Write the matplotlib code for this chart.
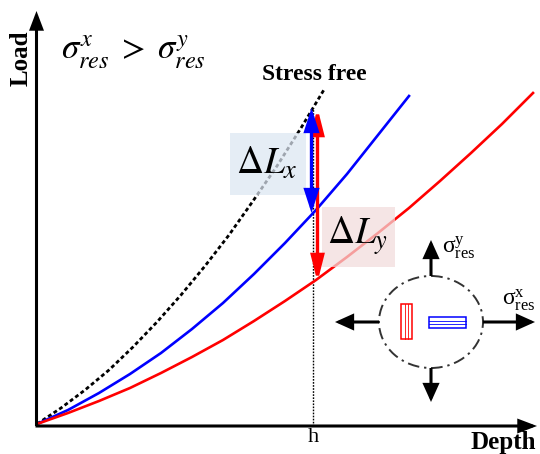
import matplotlib
matplotlib.use("Agg")
import matplotlib.pyplot as plt
from matplotlib.patches import FancyArrowPatch, Ellipse, Rectangle

plt.rcParams['font.family'] = ['Liberation Serif', 'DejaVu Serif']
plt.rcParams['mathtext.fontset'] = 'stix'

# Load-depth curves (arbitrary units)
depth_free = [0, 24, 48, 72, 96, 120, 144, 168, 192, 216, 240, 264, 288]
load_free = [0, 16, 34, 54, 77, 102, 129, 158, 189, 223, 258, 296, 336]

depth_x = [0, 31, 62, 93, 124, 155, 186, 217, 248, 279, 310, 341, 372]
load_x = [0, 14, 31, 50, 71, 95, 121, 150, 181, 214, 250, 289, 328]

depth_y = [0, 31, 62, 93, 124, 155, 186, 217, 248, 279, 310, 341, 372,
           403, 434, 465, 496]
load_y = [0, 11, 23, 36, 51, 67, 84, 103, 123, 144, 167, 191, 216,
          243, 271, 300, 331]

# indentation depth h and the loads reached there
h = 276
load_free_h = 316
load_x_h = 211
load_y_h = 142

fig = plt.figure(figsize=(5.4, 4.54), dpi=100)
ax = fig.add_axes([0, 0, 1, 1])
ax.set_xlim(-37, 503)
ax.set_ylim(-30, 424)
ax.axis('off')


def arrow(p0, p1, color, lw, style, z=5):
    a = FancyArrowPatch(p0, p1, arrowstyle=style, color=color, lw=lw,
                        mutation_scale=10, shrinkA=0, shrinkB=0, zorder=z,
                        joinstyle='miter', capstyle='butt')
    ax.add_patch(a)


# axes with arrow heads
arrow((-0.5, -2), (-0.5, 413), 'black', 2.2, '-|>,head_length=1.0,head_width=0.38')
arrow((-1.5, -2), (500, -2), 'black', 2.2, '-|>,head_length=1.0,head_width=0.38')

# curves
ax.plot(depth_free, load_free, color='black', lw=2.0, ls=(0, (1.4, 1.0)),
        zorder=3, solid_joinstyle='round')
ax.plot(depth_x, load_x, color='#0000ff', lw=1.9, zorder=3, solid_joinstyle='round')
ax.plot(depth_y, load_y, color='#ff0000', lw=1.9, zorder=3, solid_joinstyle='round')

# vertical marker at h
ax.plot([h, h], [-2, load_free_h], color='black', lw=1.0, ls=(0, (1.2, 1.0)), zorder=2)

# load difference arrows
arrow((h + 4.5, load_y_h), (h + 4.5, load_free_h), '#ff0000', 2.4,
      '<|-|>,head_length=1.5,head_width=0.38', z=6)
arrow((h - 1.5, load_x_h), (h - 1.5, load_free_h), '#0000ff', 2.4,
      '<|-|>,head_length=1.3,head_width=0.42', z=7)

# labelled boxes
ax.add_patch(Rectangle((193, 229), 76, 62, facecolor='#dce6f2', edgecolor='none',
                       alpha=0.72, zorder=4))
ax.add_patch(Rectangle((285, 157), 73, 60, facecolor='#f2dcdb', edgecolor='none',
                       alpha=0.72, zorder=4))
ax.text(230, 260, r'$\Delta L_x$', fontsize=27, ha='center', va='center', zorder=8)
ax.text(321, 188, r'$\Delta L_y$', fontsize=27, ha='center', va='center', zorder=8)

# text labels
ax.text(277, 349, 'Stress free', fontsize=17, fontweight='bold', ha='center', va='center')
ax.text(-16, 366, 'Load', fontsize=18, fontweight='bold', rotation=90,
        ha='center', va='center')
ax.text(499, -18, 'Depth', fontsize=18, fontweight='bold', ha='right', va='center')
ax.text(h, -13, 'h', fontsize=16, ha='center', va='center')
ax.text(24, 372, r'$\sigma^{x}_{res}\;>\;\sigma^{y}_{res}$', fontsize=25,
        ha='left', va='center')

# stress-state inset
cx, cy = 394, 102
ax.add_patch(Ellipse((cx, cy), 104, 92, facecolor='none', edgecolor='#333333',
                     lw=1.4, ls=(0, (6, 2.5, 1.2, 2.5)), zorder=3))
inset_style = '-|>,head_length=1.0,head_width=0.45'
arrow((cx - 52, cy), (cx - 96, cy), 'black', 2.2, inset_style)
arrow((cx + 52, cy), (cx + 104, cy), 'black', 2.2, inset_style)
arrow((cx, cy + 46), (cx, cy + 82), 'black', 2.2, inset_style)
arrow((cx, cy - 46), (cx, cy - 80), 'black', 2.2, inset_style)

ax.add_patch(Rectangle((364, 85), 11, 35, facecolor='none', edgecolor='#ff0000',
                       lw=1.1, zorder=4))
ax.plot([367.7, 367.7], [85, 120], color='#ff0000', lw=0.6, zorder=4)
ax.plot([371.3, 371.3], [85, 120], color='#ff0000', lw=0.6, zorder=4)
ax.add_patch(Rectangle((392, 96), 37, 11, facecolor='none', edgecolor='#0000ff',
                       lw=1.1, zorder=4))
ax.plot([392, 429], [99.7, 99.7], color='#0000ff', lw=0.6, zorder=4)
ax.plot([392, 429], [103.3, 103.3], color='#0000ff', lw=0.6, zorder=4)

ax.text(405, 176, r'$\mathregular{σ^{y}_{res}}$', fontsize=17, ha='left', va='center')
ax.text(465, 124, r'$\mathregular{σ^{x}_{res}}$', fontsize=17, ha='left', va='center')

fig.savefig('out.png', dpi=100)
